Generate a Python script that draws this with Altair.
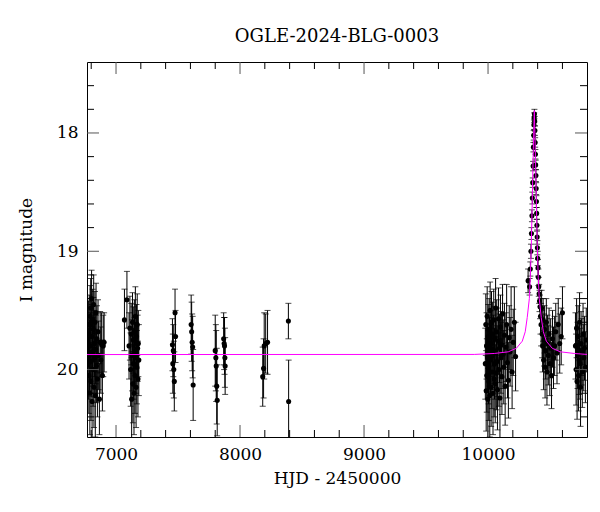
import altair as alt
import pandas as pd

TITLE = "OGLE-2024-BLG-0003"
X_TITLE = "HJD - 2450000"
Y_TITLE = "I magnitude"

# ---- photometry (HJD-2450000, I mag, error) ----
s1_hjd = [6776, 6779, 6781, 6784, 6786, 6789, 6791, 6793, 6796, 6798, 6800, 6803, 6805, 6807, 6810, 6812, 6815, 6817, 6820, 6822, 6825, 6828, 6830, 6833, 6836, 6839, 6842, 6846, 6850, 6855, 6860, 6866, 6872, 6878, 6884, 6890, 6897, 6904]
s1_mag = [19.95, 19.70, 20.05, 19.62, 19.88, 20.20, 19.55, 19.80, 19.48, 20.10, 19.93, 19.40, 19.72, 20.27, 19.85, 19.58, 20.00, 19.66, 19.45, 20.15, 19.78, 19.90, 19.60, 20.22, 19.83, 19.52, 19.97, 19.74, 20.08, 19.68, 19.88, 20.25, 19.77, 19.92, 19.79, 20.05, 19.80, 19.77]
s1_err = [0.30, 0.28, 0.32, 0.25, 0.30, 0.35, 0.26, 0.28, 0.25, 0.33, 0.30, 0.24, 0.27, 0.36, 0.29, 0.26, 0.31, 0.27, 0.25, 0.34, 0.28, 0.30, 0.26, 0.35, 0.29, 0.25, 0.31, 0.28, 0.32, 0.27, 0.29, 0.30, 0.26, 0.28, 0.27, 0.30, 0.26, 0.25]

s2_hjd = [7068, 7088, 7105, 7112, 7118, 7122, 7126, 7130, 7133, 7136, 7139, 7142, 7145, 7148, 7150, 7153, 7156, 7159, 7162, 7165, 7168, 7171, 7174, 7177, 7180, 7184]
s2_mag = [19.58, 19.41, 19.80, 19.65, 20.00, 19.70, 20.25, 19.88, 19.60, 20.12, 19.75, 19.95, 20.20, 19.68, 19.85, 20.05, 19.55, 19.90, 20.15, 19.72, 19.98, 19.62, 19.82, 20.08, 19.78, 19.92]
s2_err = [0.26, 0.24, 0.28, 0.27, 0.31, 0.26, 0.35, 0.30, 0.25, 0.33, 0.28, 0.30, 0.35, 0.27, 0.29, 0.32, 0.25, 0.30, 0.34, 0.27, 0.31, 0.26, 0.28, 0.32, 0.28, 0.30]

s3_hjd = [7455, 7458, 7462, 7466, 7470, 7476, 7480, 7606, 7610, 7614, 7618, 7622, 7800, 7805, 7808, 7812, 7816, 7868, 7872, 7875, 7878, 7880, 8183, 8190, 8195, 8207, 8222, 8390, 8392]
s3_mag = [19.79, 19.95, 19.84, 20.00, 20.10, 19.52, 19.72, 19.62, 19.68, 19.77, 19.81, 20.13, 19.84, 19.90, 19.97, 20.14, 20.26, 19.74, 19.78, 19.80, 19.90, 19.97, 20.06, 19.99, 19.80, 19.78, 19.77, 19.59, 20.27]
s3_err = [0.22, 0.25, 0.22, 0.24, 0.25, 0.20, 0.22, 0.25, 0.25, 0.24, 0.26, 0.30, 0.30, 0.28, 0.30, 0.32, 0.30, 0.22, 0.22, 0.24, 0.25, 0.24, 0.25, 0.25, 0.28, 0.25, 0.27, 0.15, 0.35]

s4_hjd = [9978, 9982, 9985, 9988, 9990, 9993, 9996, 9998, 10001, 10004, 10006, 10009, 10012, 10014, 10017, 10020, 10022, 10025, 10028, 10031, 10034, 10037, 10040, 10043, 10046, 10049, 10052, 10055, 10058, 10061, 10064, 10067, 10070, 10073, 10076, 10080, 10084, 10088, 10092, 10096, 10100, 10104, 10108, 10112, 10117, 10122, 10127, 10132, 10138, 10144, 10150, 10157, 10164, 10171, 10178, 10186, 10194, 10203, 10212, 10222]
s4_mag = [19.95, 19.62, 20.18, 19.80, 20.05, 19.55, 19.90, 20.25, 19.72, 19.98, 20.10, 19.66, 19.85, 20.22, 19.50, 19.92, 19.78, 20.15, 19.60, 20.02, 19.88, 19.70, 20.20, 19.83, 19.58, 20.08, 19.95, 19.74, 20.12, 19.48, 19.86, 20.03, 19.68, 19.93, 20.17, 19.76, 19.57, 20.00, 19.82, 20.24, 19.64, 19.90, 19.79, 20.06, 19.53, 19.87, 19.98, 19.71, 20.14, 19.81, 19.62, 19.94, 20.09, 19.73, 19.85, 19.66, 20.02, 19.77, 19.60, 19.89]
s4_err = [0.30, 0.26, 0.34, 0.28, 0.31, 0.25, 0.29, 0.36, 0.27, 0.31, 0.33, 0.26, 0.29, 0.35, 0.24, 0.30, 0.28, 0.33, 0.26, 0.31, 0.29, 0.27, 0.35, 0.29, 0.26, 0.32, 0.30, 0.27, 0.33, 0.25, 0.29, 0.31, 0.27, 0.30, 0.34, 0.28, 0.26, 0.31, 0.29, 0.36, 0.27, 0.30, 0.28, 0.32, 0.25, 0.29, 0.31, 0.27, 0.33, 0.29, 0.34, 0.30, 0.32, 0.27, 0.29, 0.36, 0.31, 0.28, 0.30, 0.29]

s5_hjd = [10323, 10335, 10341, 10346, 10350, 10354, 10357, 10360, 10363, 10366, 10368, 10370, 10372, 10374, 10376, 10378, 10380, 10382, 10384, 10386, 10388, 10390, 10392, 10394, 10396, 10398, 10400, 10403, 10406, 10409, 10412, 10415, 10419]
s5_mag = [19.25, 19.30, 19.15, 19.00, 18.85, 18.70, 18.55, 18.42, 18.28, 18.12, 18.02, 17.93, 17.87, 17.84, 17.90, 17.98, 18.08, 18.18, 18.27, 18.36, 18.47, 18.58, 18.68, 18.78, 18.88, 18.97, 19.06, 19.14, 19.22, 19.30, 19.36, 19.42, 19.47]
s5_err = [0.10, 0.07, 0.06, 0.06, 0.05, 0.05, 0.05, 0.04, 0.04, 0.04, 0.04, 0.04, 0.04, 0.04, 0.04, 0.04, 0.04, 0.04, 0.04, 0.05, 0.05, 0.05, 0.05, 0.05, 0.06, 0.06, 0.06, 0.07, 0.07, 0.08, 0.08, 0.09, 0.10]

s6_hjd = [10423, 10428, 10432, 10436, 10440, 10444, 10448, 10452, 10456, 10460, 10465, 10470, 10475, 10480, 10486, 10492, 10498, 10505, 10512, 10520, 10528, 10537, 10546, 10556, 10566, 10578, 10590, 10600]
s6_mag = [19.55, 19.62, 19.48, 19.70, 19.80, 19.58, 19.92, 19.75, 19.66, 19.98, 19.84, 19.60, 20.02, 19.78, 19.88, 19.70, 19.95, 19.82, 20.05, 19.74, 19.90, 19.80, 19.68, 19.86, 19.62, 19.78, 19.72, 19.52]
s6_err = [0.15, 0.18, 0.15, 0.20, 0.22, 0.18, 0.25, 0.22, 0.20, 0.26, 0.24, 0.20, 0.28, 0.24, 0.25, 0.22, 0.27, 0.25, 0.28, 0.24, 0.26, 0.25, 0.24, 0.26, 0.22, 0.25, 0.24, 0.22]

s7_hjd = [10705, 10710, 10714, 10718, 10722, 10726, 10730, 10734, 10738, 10742, 10746, 10750, 10755, 10760, 10766, 10772, 10778, 10785, 10792]
s7_mag = [19.80, 20.00, 19.65, 20.10, 19.88, 19.72, 20.05, 19.92, 19.60, 19.95, 20.15, 19.78, 19.85, 20.02, 19.70, 19.90, 19.82, 19.98, 19.75]
s7_err = [0.28, 0.30, 0.25, 0.32, 0.28, 0.26, 0.30, 0.29, 0.25, 0.30, 0.33, 0.27, 0.28, 0.30, 0.26, 0.28, 0.27, 0.30, 0.27]

# ---- model curve ----
model_hjd = [6766, 9889, 10050, 10163, 10228, 10276, 10300, 10316, 10333, 10341, 10349, 10357, 10365, 10373, 10381, 10389, 10397, 10405, 10413, 10429, 10446, 10470, 10518, 10583, 10696, 10798]
model_mag = [19.873, 19.872, 19.864, 19.85, 19.82, 19.76, 19.68, 19.56, 19.40, 19.22, 18.95, 18.55, 18.14, 17.81, 18.14, 18.55, 18.95, 19.22, 19.40, 19.56, 19.68, 19.76, 19.82, 19.85, 19.864, 19.872]

# ---- axes ----
x_domain = [6766, 10798]
y_domain = [17.40, 20.57]
x_major = [7000, 8000, 9000, 10000]
x_minor = [6800, 7200, 7400, 7600, 7800, 8200, 8400, 8600, 8800, 9200, 9400, 9600, 9800, 10200, 10400, 10600]
y_major = [18, 19, 20]
y_minor = [17.6, 17.8, 18.2, 18.4, 18.6, 18.8, 19.2, 19.4, 19.6, 19.8, 20.2, 20.4]

W, H = 500, 375
MAJ, MIN = 12, 7
FONT = "DejaVu Serif"

hjd = s1_hjd + s2_hjd + s3_hjd + s4_hjd + s5_hjd + s6_hjd + s7_hjd
mag = s1_mag + s2_mag + s3_mag + s4_mag + s5_mag + s6_mag + s7_mag
err = s1_err + s2_err + s3_err + s4_err + s5_err + s6_err + s7_err

df = pd.DataFrame({"hjd": hjd, "mag": mag, "err": err})
df["lo"] = df["mag"] - df["err"]
df["hi"] = df["mag"] + df["err"]
model_df = pd.DataFrame({"hjd": model_hjd, "mag": model_mag})

xs = alt.Scale(domain=x_domain, nice=False, zero=False)
ys = alt.Scale(domain=y_domain, reverse=True, nice=False, zero=False)

xaxis = alt.Axis(values=x_major, ticks=False, tickSize=0, domain=False, grid=False, format="d",
                 labelFont=FONT, labelFontSize=17, labelColor="black", labelPadding=9, labelFlush=False,
                 titleFont=FONT, titleFontSize=17, titleFontWeight="normal", titleColor="black", titlePadding=8)
yaxis = alt.Axis(values=y_major, ticks=False, tickSize=0, domain=False, grid=False, format="d",
                 labelFont=FONT, labelFontSize=17, labelColor="black", labelPadding=9, labelFlush=False,
                 titleFont=FONT, titleFontSize=17, titleFontWeight="normal", titleColor="black", titlePadding=21)


def X(field):
    return alt.X(field, type="quantitative", scale=xs, axis=xaxis, title=X_TITLE)


def Y(field):
    return alt.Y(field, type="quantitative", scale=ys, axis=yaxis, title=Y_TITLE)


base = alt.Chart(df)
bars = base.mark_rule(color="black", strokeWidth=1, clip=True).encode(x=X("hjd"), y=Y("lo"), y2="hi")
cap_lo = base.mark_tick(orient="horizontal", size=6, thickness=1, color="black", clip=True).encode(x=X("hjd"), y=Y("lo"))
cap_hi = base.mark_tick(orient="horizontal", size=6, thickness=1, color="black", clip=True).encode(x=X("hjd"), y=Y("hi"))
pts = base.mark_circle(size=26, color="black", opacity=1, clip=True).encode(x=X("hjd"), y=Y("mag"))
model = alt.Chart(model_df).mark_line(color="#ff00ff", strokeWidth=1, clip=True).encode(x=X("hjd"), y=Y("mag"))


def xticks(vals, length, color):
    d = alt.Chart(pd.DataFrame({"v": vals}))
    top = d.mark_rule(color=color, strokeWidth=1).encode(x=X("v"), y=alt.value(0), y2=alt.value(length))
    bot = d.mark_rule(color=color, strokeWidth=1).encode(x=X("v"), y=alt.value(H), y2=alt.value(H - length))
    return [top, bot]


def yticks(vals, length, color):
    d = alt.Chart(pd.DataFrame({"v": vals}))
    left = d.mark_rule(color=color, strokeWidth=1).encode(y=Y("v"), x=alt.value(0), x2=alt.value(length))
    right = d.mark_rule(color=color, strokeWidth=1).encode(y=Y("v"), x=alt.value(W), x2=alt.value(W - length))
    return [left, right]


tick_layers = (xticks(x_major, MAJ, "#555555") + xticks(x_minor, MIN, "black")
               + yticks(y_major, MAJ, "#555555") + yticks(y_minor, MIN, "black"))

chart = alt.layer(bars, cap_lo, cap_hi, pts, model, *tick_layers).properties(
    width=W, height=H,
    autosize=alt.AutoSizeParams(type="none"),
    padding={"left": 79, "top": 54, "right": 5, "bottom": 60},
    title=alt.Title(TITLE, font=FONT, fontSize=18, fontWeight="normal", color="black",
                    frame="group", anchor="middle", offset=16),
).configure_view(stroke="black", strokeWidth=1)

chart.save("out.html", embed_options={"renderer": "svg", "actions": False})
